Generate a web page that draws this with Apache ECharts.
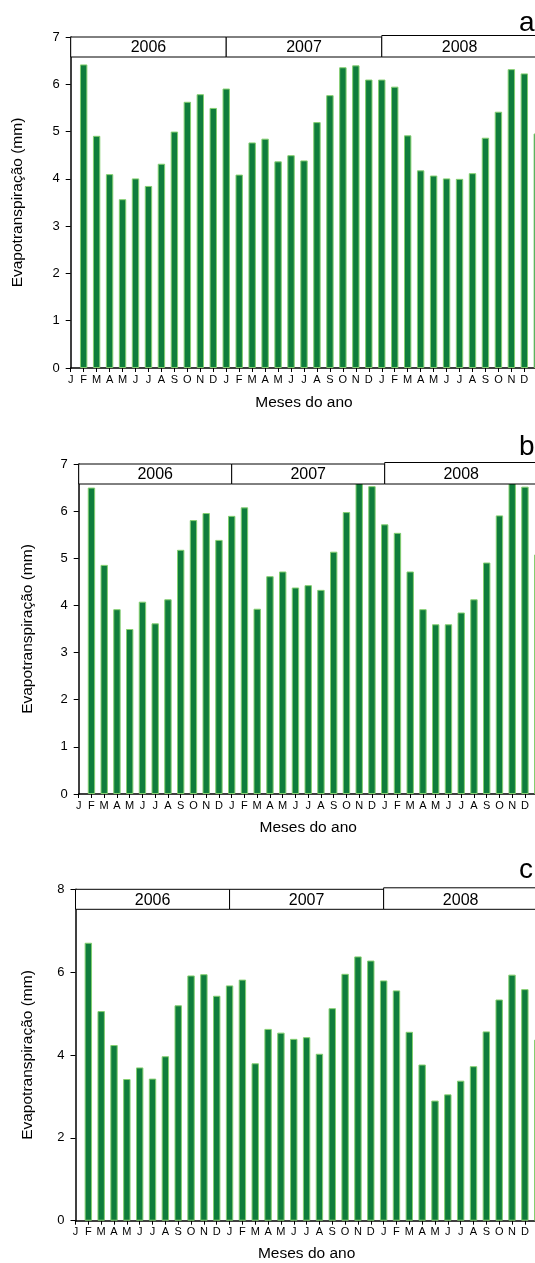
<!DOCTYPE html>
<html>
<head>
<meta charset="utf-8">
<script src="https://cdn.jsdelivr.net/npm/echarts@6/dist/echarts.min.js"></script>
<style>
html,body{margin:0;padding:0;background:#fff;}
#c{width:535px;height:1263px;}
</style>
</head>
<body>
<div id="c"></div>
<script>
// ---- data ----
const months = ['J','F','M','A','M','J','J','A','S','O','N','D'];
const tickLabels = [].concat(months, months, months, ['']);
const yearLabels = ['2006','2007','2008'];
const yearStartIdx = [0, 12, 24];
const yearEndIdx = [12, 24, 36];
const panelLetters = ['a','b','c'];
const valuesA = [null, 6.42, 4.91, 4.10, 3.57, 4.01, 3.85, 4.32, 5.00, 5.63, 5.79, 5.50,
  5.91, 4.09, 4.77, 4.85, 4.37, 4.50, 4.39, 5.20, 5.77, 6.36, 6.40, 6.10,
  6.10, 5.95, 4.92, 4.18, 4.07, 4.01, 4.00, 4.12, 4.87, 5.42, 6.32, 6.23, 4.96];
const valuesB = [null, 6.50, 4.86, 3.92, 3.50, 4.08, 3.62, 4.13, 5.18, 5.81, 5.96, 5.39,
  5.90, 6.08, 3.93, 4.62, 4.72, 4.38, 4.43, 4.33, 5.14, 5.98, 6.75, 6.53,
  5.72, 5.54, 4.72, 3.92, 3.60, 3.60, 3.85, 4.13, 4.91, 5.91, 6.75, 6.52, 5.08];
const valuesC = [null, 6.71, 5.06, 4.24, 3.42, 3.70, 3.43, 3.97, 5.20, 5.92, 5.95, 5.43,
  5.68, 5.82, 3.80, 4.63, 4.54, 4.39, 4.43, 4.03, 5.13, 5.96, 6.38, 6.28,
  5.80, 5.56, 4.56, 3.77, 2.90, 3.05, 3.38, 3.73, 4.57, 5.34, 5.94, 5.59, 4.37];
const yMaxes = [7, 7, 8];
const yIntervals = [1, 1, 2];
const xTitle = 'Meses do ano';
const yTitle = 'Evapotranspiração (mm)';

// ---- layout / style ----
const FONT = 'Liberation Sans, Arial, sans-serif';
const layout = [
  {left: 70.7, top: 37, width: 466.6, height: 331, yGap: 45, xGap: 27, letterTop: 4},
  {left: 78.7, top: 464, width: 459, height: 330, yGap: 43, xGap: 26, letterTop: 428},
  {left: 75.5, top: 889.3, width: 462.2, height: 331.4, yGap: 40, xGap: 25, letterTop: 851}
];
const seriesValues = [valuesA, valuesB, valuesC];

const grids = [], xAxes = [], yAxes = [], series = [], titles = [];
layout.forEach((L, k) => {
  grids.push({left: L.left, top: L.top, width: L.width, height: L.height,
    containLabel: false, outerBoundsMode: 'none'});
  xAxes.push({
    type: 'category', gridIndex: k, data: tickLabels, boundaryGap: false,
    name: xTitle, nameLocation: 'middle', nameGap: L.xGap,
    nameTextStyle: {fontSize: 15.5, color: '#000', fontFamily: FONT},
    axisLine: {show: true, lineStyle: {color: '#000', width: 1.5}},
    axisTick: {show: true, length: 4, interval: 0, lineStyle: {color: '#000', width: 1}},
    axisLabel: {interval: 0, fontSize: 11, color: '#000', margin: 6, fontFamily: FONT},
    splitLine: {show: false}
  });
  yAxes.push({
    type: 'value', gridIndex: k, min: 0, max: yMaxes[k], interval: yIntervals[k],
    name: yTitle, nameLocation: 'middle', nameGap: L.yGap, nameRotate: 90,
    nameTextStyle: {fontSize: 15.5, color: '#000', fontFamily: FONT},
    axisLine: {show: true, lineStyle: {color: '#000', width: 1.5}},
    axisTick: {show: true, length: 5, lineStyle: {color: '#000', width: 1}},
    axisLabel: {fontSize: 13, color: '#000', margin: 11, fontFamily: FONT},
    splitLine: {show: false}
  });
  series.push({
    type: 'bar', xAxisIndex: k, yAxisIndex: k, data: seriesValues[k],
    barWidth: 7.4, z: 2,
    itemStyle: {color: '#0f7d3c', borderColor: '#84cf70', borderWidth: 1},
    emphasis: {disabled: true}, animation: false
  });
  const yMax = yMaxes[k];
  series.push({
    type: 'custom', xAxisIndex: k, yAxisIndex: k, z: 10, clip: false, animation: false,
    data: yearLabels.map((l, i) => [yearStartIdx[i], yMax]),
    renderItem: function (params, api) {
      const i = params.dataIndex;
      const p0 = api.coord([yearStartIdx[i], yMax]);
      const p1 = api.coord([yearEndIdx[i], yMax]);
      const h = 20;
      const shift = i === 2 ? -1.5 : 0;
      return {
        type: 'group',
        children: [
          {type: 'rect', shape: {x: p0[0], y: p0[1] + shift, width: p1[0] - p0[0], height: h - shift},
           style: {fill: '#fff', stroke: '#000', lineWidth: 1}},
          {type: 'text', style: {text: yearLabels[i], x: (p0[0] + p1[0]) / 2, y: p0[1] + h / 2 + 1,
           align: 'center', verticalAlign: 'middle', fontSize: 16, fill: '#000', fontFamily: FONT}}
        ]
      };
    }
  });
  titles.push({text: panelLetters[k], left: 514, top: L.letterTop,
    textStyle: {fontSize: 28, fontWeight: 'normal', color: '#000', fontFamily: FONT}});
});

const chart = echarts.init(document.getElementById('c'), null, {renderer: 'canvas'});
chart.setOption({
  animation: false,
  backgroundColor: '#fff',
  title: titles,
  grid: grids,
  xAxis: xAxes,
  yAxis: yAxes,
  series: series
});
</script>
</body>
</html>
